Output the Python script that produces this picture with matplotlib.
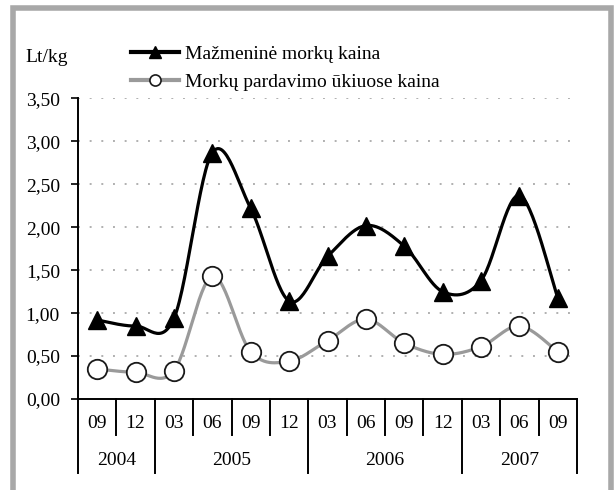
import numpy as np
import matplotlib
matplotlib.use("Agg")
import matplotlib.pyplot as plt
from matplotlib.lines import Line2D
from matplotlib.patches import Rectangle
import matplotlib.transforms as mtransforms

plt.rcParams['font.family'] = ['Liberation Serif', 'DejaVu Serif']

months      = ["09", "12", "03", "06", "09", "12", "03", "06", "09", "12", "03", "06", "09"]
years       = ["2004", "2005", "2006", "2007"]
year_counts = [2, 4, 4, 3]
retail      = [0.92, 0.85, 0.94, 2.87, 2.22, 1.14, 1.66, 2.02, 1.78, 1.25, 1.38, 2.37, 1.18]
farm        = [0.35, 0.31, 0.33, 1.43, 0.55, 0.44, 0.68, 0.93, 0.65, 0.52, 0.61, 0.85, 0.55]
yticks      = [0.0, 0.5, 1.0, 1.5, 2.0, 2.5, 3.0, 3.5]
labels      = ["Mažmeninė morkų kaina", "Morkų pardavimo ūkiuose kaina"]

FS = 14


def smooth(xs, ys, n=30):
    # excel-like smoothed line: catmull-rom segments drawn as cubic beziers
    p  = np.column_stack([xs, ys]).astype(float)
    pp = np.vstack([p[0], p, p[-1]])
    t  = np.linspace(0, 1, n)[:, None]
    out = []
    for i in range(len(p) - 1):
        p0, p1, p2, p3 = pp[i], pp[i+1], pp[i+2], pp[i+3]
        c1 = p1 + (p2 - p0) / 6
        c2 = p2 - (p3 - p1) / 6
        seg = ((1-t)**3)*p1 + 3*((1-t)**2)*t*c1 + 3*(1-t)*(t**2)*c2 + (t**3)*p2
        out.append(seg if i == 0 else seg[1:])
    out = np.vstack(out)
    return out[:, 0], out[:, 1]


W, H = 615, 490
fig = plt.figure(figsize=(W/100, H/100), dpi=100)
ax  = fig.add_axes([78/W, (H-399)/H, 499/W, 300.5/H])

n = len(months)
x = np.arange(n)

sx, sy = smooth(x, farm)
ax.plot(sx, sy, color="#9a9a9a", lw=2.3, zorder=3, solid_capstyle="round")
ax.plot(x, farm, ls="none", marker="o", ms=14, mfc="white", mec="#1a1a1a", mew=1.3, zorder=4)

sx, sy = smooth(x, retail)
ax.plot(sx, sy, color="black", lw=2.3, zorder=5, solid_capstyle="round")
ax.plot(x, retail, ls="none", marker="^", ms=13, mfc="black", mec="black", zorder=6)

ax.set_xlim(-0.5, n - 0.5)
ax.set_ylim(0, 3.5)
ax.set_yticks(yticks)
ax.set_yticklabels([f"{v:.2f}".replace(".", ",") for v in yticks], fontsize=FS)
ax.tick_params(axis="y", direction="out", length=5, width=1.2, pad=8, colors="black")
ax.set_xticks([])
for v in yticks[1:]:
    ax.axhline(v, color="#b0b0b0", lw=1.4, ls=(0, (1, 5)), zorder=1)

for s in ["top", "right"]:
    ax.spines[s].set_visible(False)
ax.spines["left"].set_linewidth(1.4)
ax.spines["bottom"].set_linewidth(1.4)

# category axis: month labels, separators and year groups below
tr = mtransforms.blended_transform_factory(ax.transData, ax.transAxes)
px = 1 / 300.5
bounds = np.cumsum([0] + year_counts) - 0.5
for b in np.arange(n + 1) - 0.5:
    depth = 74 if b in bounds else 36
    ax.add_line(Line2D([b, b], [0, -depth*px], transform=tr, color="black", lw=1.4, clip_on=False))
for i, m in enumerate(months):
    ax.text(i, -24*px, m, transform=tr, ha="center", va="center", fontsize=FS)
for k, y in enumerate(years):
    ax.text((bounds[k] + bounds[k+1]) / 2, -61*px, y, transform=tr, ha="center", va="center", fontsize=FS)

fig.text(25/W, 1 - 57/H, "Lt/kg", ha="left", va="center", fontsize=FS)

handles = [
    Line2D([], [], color="black", lw=3, marker="^", ms=8, mfc="black", mec="black"),
    Line2D([], [], color="#9a9a9a", lw=3, marker="o", ms=8, mfc="white", mec="#1a1a1a", mew=1.2),
]
fig.legend(handles, labels, loc="upper left", bbox_to_anchor=(131/W, 1 - 45/H),
           frameon=False, fontsize=FS, handlelength=2.45, handletextpad=0.35,
           labelspacing=0.55, borderpad=0, borderaxespad=0)

# grey frame around the chart
fig.add_artist(Rectangle((13/W, -0.1), (611-13)/W, 1.1 - 8/H, transform=fig.transFigure,
                         fill=False, ec="#a8a8a8", lw=4))

fig.savefig("out.png", dpi=100)
